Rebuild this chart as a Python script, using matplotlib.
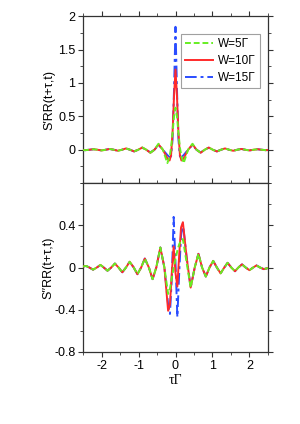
import matplotlib

matplotlib.use("Agg")
import matplotlib.pyplot as plt
from matplotlib.ticker import MultipleLocator

plt.rcParams["font.family"] = ["Liberation Sans", "DejaVu Sans"]

# top panel, S'_RR (even in tau)
tau_top = [-2.5, -2.44, -2.33, -2.22, -2.11, -2.0, -1.89, -1.78, -1.67, -1.56,
           -1.45, -1.34, -1.23, -1.12, -1.01, -0.9, -0.79, -0.68, -0.57, -0.46,
           -0.34, -0.22, -0.16, -0.12, -0.08, -0.04, 0.0, 0.04, 0.08, 0.12,
           0.16, 0.22, 0.34, 0.46, 0.57, 0.68, 0.79, 0.9, 1.01, 1.12,
           1.23, 1.34, 1.45, 1.56, 1.67, 1.78, 1.89, 2.0, 2.11, 2.22,
           2.33, 2.44, 2.5]
s1_w5 = [-0.004, -0.006, 0, 0.008, 0, -0.01, 0, 0.012, 0, -0.015,
         0, 0.02, 0, -0.025, 0, 0.035, 0, -0.045, 0, 0.09,
         0, -0.2, -0.1, 0.03, 0.25, 0.5, 0.63, 0.5, 0.25, 0.03,
         -0.1, -0.2, 0, 0.09, 0, -0.045, 0, 0.035, 0, -0.025,
         0, 0.02, 0, -0.015, 0, 0.012, 0, -0.01, 0, 0.008,
         0, -0.006, -0.004]
s1_w10 = [-0.004, -0.006, 0, 0.008, 0, -0.01, 0, 0.012, 0, -0.015,
          0, 0.02, 0, -0.025, 0, 0.033, 0, -0.045, 0, 0.08,
          0, -0.13, -0.16, -0.08, 0.25, 0.8, 1.2, 0.8, 0.25, -0.08,
          -0.16, -0.13, 0, 0.08, 0, -0.045, 0, 0.033, 0, -0.025,
          0, 0.02, 0, -0.015, 0, 0.012, 0, -0.01, 0, 0.008,
          0, -0.006, -0.004]
s1_w15 = [-0.004, -0.006, 0, 0.008, 0, -0.01, 0, 0.012, 0, -0.015,
          0, 0.02, 0, -0.025, 0, 0.03, 0, -0.04, 0, 0.07,
          0, -0.08, -0.11, -0.1, 0.15, 0.9, 1.84, 0.9, 0.15, -0.1,
          -0.11, -0.08, 0, 0.07, 0, -0.04, 0, 0.03, 0, -0.025,
          0, 0.02, 0, -0.015, 0, 0.012, 0, -0.01, 0, 0.008,
          0, -0.006, -0.004]

# bottom panel, S''_RR (odd-like in tau)
tau_bot = [-2.5, -2.42, -2.33, -2.23, -2.13, -2.03, -1.94, -1.84, -1.74, -1.64,
           -1.54, -1.44, -1.34, -1.24, -1.13, -1.03, -0.93, -0.83, -0.72, -0.62,
           -0.52, -0.41, -0.3, -0.2, -0.15, -0.1, -0.05, 0.0, 0.05, 0.1,
           0.15, 0.2, 0.3, 0.41, 0.52, 0.62, 0.72, 0.82, 0.92, 1.02,
           1.12, 1.22, 1.32, 1.41, 1.51, 1.61, 1.7, 1.8, 1.9, 2.0,
           2.1, 2.19, 2.29, 2.39, 2.5]
s2_w5 = [0.01, 0.015, 0, -0.02, 0, 0.025, 0, -0.03, 0, 0.038,
         0, -0.045, 0, 0.055, 0, -0.063, 0, 0.085, 0, -0.11,
         0, 0.19, 0, -0.25, -0.2, -0.1, 0, 0.08, 0.16, 0.22,
         0.26, 0.27, 0.05, -0.19, 0, 0.13, 0, -0.085, 0, 0.063,
         0, -0.055, 0, 0.045, 0, -0.035, 0, 0.03, 0, -0.025,
         0, 0.02, 0, -0.015, -0.005]
s2_w10 = [0.01, 0.015, 0, -0.02, 0, 0.025, 0, -0.03, 0, 0.038,
          0, -0.045, 0, 0.055, 0, -0.063, 0, 0.085, 0, -0.11,
          0, 0.19, 0, -0.41, -0.35, -0.05, 0.2, -0.05, -0.18, 0.12,
          0.38, 0.43, 0.1, -0.19, 0, 0.13, 0, -0.085, 0, 0.063,
          0, -0.055, 0, 0.045, 0, -0.035, 0, 0.03, 0, -0.025,
          0, 0.02, 0, -0.015, -0.005]
s2_w15 = [0.01, 0.015, 0, -0.02, 0, 0.025, 0, -0.03, 0, 0.038,
          0, -0.045, 0, 0.055, 0, -0.063, 0, 0.085, 0, -0.11,
          0, 0.19, 0, -0.35, -0.44, -0.1, 0.48, 0.05, -0.47, -0.05,
          0.3, 0.42, 0.1, -0.19, 0, 0.13, 0, -0.085, 0, 0.063,
          0, -0.055, 0, 0.045, 0, -0.035, 0, 0.03, 0, -0.025,
          0, 0.02, 0, -0.015, -0.005]

labels = ["W=5\u0393", "W=10\u0393", "W=15\u0393"]
colors = ["#66ee22", "#ff2a2a", "#2a4dff"]
styles = [(0, (3, 1.5)), "-", (0, (6, 2, 1.5, 2))]

fig = plt.figure(figsize=(3.0, 4.24), dpi=100)
ax1 = fig.add_axes([0.277, 0.568, 0.616, 0.394])
ax2 = fig.add_axes([0.277, 0.170, 0.616, 0.398], sharex=ax1)

zorders = [4, 3, 2]
for ax, data in ((ax1, [s1_w5, s1_w10, s1_w15]), (ax2, [s2_w5, s2_w10, s2_w15])):
    tau = tau_top if ax is ax1 else tau_bot
    for y, lab, c, ls, z in zip(data, labels, colors, styles, zorders):
        ax.plot(tau, y, color=c, ls=ls, lw=1.4, label=lab, zorder=z)
    ax.set_xlim(-2.5, 2.5)
    ax.xaxis.set_major_locator(MultipleLocator(1))
    ax.xaxis.set_minor_locator(MultipleLocator(0.5))
    ax.tick_params(which="both", direction="out", top=True, right=True,
                   labelsize=9, color="#333333", pad=2)
    ax.tick_params(which="major", length=3.5)
    ax.tick_params(which="minor", length=2)
    for sp in ax.spines.values():
        sp.set_color("#333333")
        sp.set_linewidth(0.9)

ax1.set_ylim(-0.5, 2)
ax1.set_yticks([0, 0.5, 1, 1.5, 2])
ax1.set_yticklabels(["0", "0.5", "1", "1.5", "2"])
ax1.yaxis.set_minor_locator(MultipleLocator(0.25))
ax1.tick_params(labelbottom=False)
ax1.set_ylabel("S\u2032RR(t+\u03c4,t)", fontsize=9, labelpad=2)
leg = ax1.legend(loc="upper right", fontsize=8.5, frameon=True, fancybox=False,
                 handlelength=2.4, handletextpad=0.4, borderpad=0.35,
                 labelspacing=0.4, borderaxespad=0,
                 bbox_to_anchor=(0.957, 0.892))
leg.get_frame().set_edgecolor("#888888")
leg.get_frame().set_linewidth(0.8)

ax2.set_ylim(-0.8, 0.8)
ax2.set_yticks([-0.8, -0.4, 0, 0.4])
ax2.set_yticklabels(["-0.8", "-0.4", "0", "0.4"])
ax2.yaxis.set_minor_locator(MultipleLocator(0.2))
ax2.set_xticks([-2, -1, 0, 1, 2])
ax2.set_xticklabels(["-2", "-1", "0", "1", "2"])
ax2.set_ylabel("S\u2032\u2032RR(t+\u03c4,t)", fontsize=9, labelpad=0)
ax2.set_xlabel("\u03c4\u0393", fontsize=10, family="Liberation Serif", labelpad=2)

fig.savefig("out.png", dpi=100)
